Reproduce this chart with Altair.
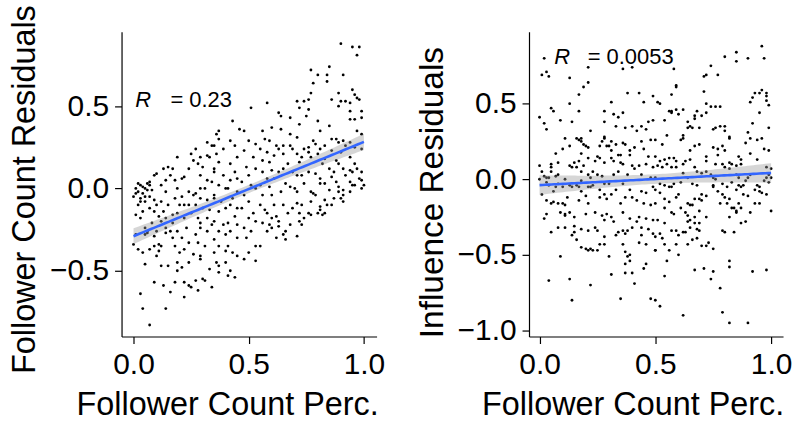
import altair as alt
import numpy as np
import pandas as pd

# ---- data (x = follower count percentile, y = residual) ----
left_points = [
    (0.00,-0.05),(0.01,0.00),(0.02,-0.02),(0.03,0.02),(0.03,-0.06),(0.04,-0.03),(0.05,0.00),(0.05,-0.08),
    (0.05,-0.05),(0.02,-0.10),(0.04,-0.14),(0.01,-0.16),(0.03,-0.18),(0.05,-0.24),(0.00,-0.34),(0.02,-0.37),
    (0.04,-0.39),(0.05,-0.28),(0.05,-0.46),(0.03,-0.64),(0.04,-0.73),(0.07,-0.83),(0.06,-0.27),(0.01,-0.28),
    (0.01,-0.03),(0.02,0.03),(0.04,0.01),(0.06,-0.01),(0.07,0.02),(0.03,-0.08),
    (0.06,0.03),(0.07,0.04),(0.09,0.08),(0.10,0.09),(0.08,-0.01),(0.07,-0.05),(0.09,-0.07),(0.10,-0.10),
    (0.07,-0.12),(0.09,-0.14),(0.11,-0.17),(0.08,-0.21),(0.06,-0.26),(0.10,-0.26),(0.09,-0.29),(0.11,-0.34),
    (0.09,-0.35),(0.11,-0.38),(0.10,-0.41),(0.12,-0.47),(0.09,-0.57),(0.07,-0.37),
    (0.13,0.12),(0.15,0.13),(0.17,0.12),(0.12,0.02),(0.14,0.05),(0.16,0.08),(0.14,-0.02),(0.12,-0.08),
    (0.15,-0.10),(0.13,-0.14),(0.17,-0.16),(0.14,-0.18),(0.12,-0.20),(0.14,-0.24),(0.16,-0.26),(0.17,-0.21),
    (0.12,-0.35),(0.14,-0.27),(0.15,-0.47),(0.13,-0.59),(0.16,-0.63),(0.14,-0.73),(0.17,-0.30),
    (0.19,0.19),(0.18,0.05),(0.21,0.06),(0.22,0.07),(0.19,0.00),(0.21,-0.05),(0.18,-0.06),(0.20,-0.10),
    (0.22,-0.10),(0.19,-0.15),(0.22,-0.18),(0.19,-0.26),(0.21,-0.30),(0.18,-0.35),(0.20,-0.39),(0.22,-0.37),
    (0.19,-0.45),(0.21,-0.48),(0.19,-0.50),(0.18,-0.57),(0.22,-0.66),(0.22,-0.57),
    (0.27,0.24),(0.25,0.21),(0.29,0.19),(0.24,0.12),(0.26,0.17),(0.28,0.15),(0.24,-0.02),(0.26,-0.04),
    (0.27,-0.03),(0.29,0.00),(0.24,-0.10),(0.27,-0.10),(0.25,-0.15),(0.28,-0.18),(0.23,-0.24),(0.29,-0.21),
    (0.27,-0.28),(0.24,-0.33),(0.28,-0.33),(0.26,-0.40),(0.24,-0.45),(0.29,-0.43),(0.24,-0.59),(0.25,-0.60),
    (0.28,-0.62),(0.27,-0.56),
    (0.32,0.28),(0.34,0.26),(0.33,0.19),(0.32,0.20),(0.30,0.13),(0.35,0.12),(0.29,0.08),(0.32,0.05),
    (0.34,0.04),(0.31,0.00),(0.29,-0.06),(0.32,-0.07),(0.35,-0.04),(0.30,-0.12),(0.33,-0.13),(0.32,-0.18),
    (0.29,-0.24),(0.34,-0.22),(0.32,-0.26),(0.31,-0.35),(0.35,-0.31),(0.29,-0.41),(0.33,-0.49),(0.30,-0.55),
    (0.31,-0.56),(0.34,-0.60),
    (0.36,0.33),(0.37,0.30),(0.37,0.35),(0.35,0.26),(0.36,0.21),(0.39,0.24),(0.37,0.16),(0.35,0.10),
    (0.39,0.08),(0.37,0.02),(0.40,0.00),(0.35,-0.06),(0.38,-0.08),(0.37,-0.14),(0.40,-0.12),(0.35,-0.20),
    (0.39,-0.22),(0.37,-0.26),(0.40,-0.28),(0.37,-0.35),(0.35,-0.39),(0.40,-0.38),(0.37,-0.47),(0.40,-0.45),
    (0.36,-0.45),(0.37,-0.51),
    (0.43,0.41),(0.46,0.36),(0.42,0.29),(0.44,0.26),(0.45,0.19),(0.42,0.15),(0.44,0.10),(0.42,0.05),
    (0.45,0.06),(0.41,0.00),(0.45,-0.02),(0.43,-0.06),(0.42,-0.10),(0.45,-0.12),(0.44,-0.17),(0.41,-0.21),
    (0.45,-0.22),(0.42,-0.26),(0.45,-0.30),(0.41,-0.35),(0.43,-0.39),(0.45,-0.41),(0.41,-0.53),(0.42,-0.50),
    (0.44,-0.54),
    (0.48,0.35),(0.51,0.49),(0.50,0.29),(0.53,0.27),(0.48,0.23),(0.52,0.19),(0.49,0.13),(0.53,0.12),
    (0.50,0.08),(0.47,0.04),(0.51,0.02),(0.53,0.00),(0.48,-0.04),(0.50,-0.08),(0.47,-0.12),(0.52,-0.15),
    (0.50,-0.18),(0.53,-0.20),(0.48,-0.24),(0.51,-0.26),(0.49,-0.30),(0.53,-0.35),(0.50,-0.39),(0.53,-0.44),
    (0.48,-0.43),
    (0.58,0.52),(0.63,0.46),(0.64,0.44),(0.56,0.35),(0.60,0.37),(0.59,0.29),(0.57,0.30),(0.62,0.26),
    (0.63,0.24),(0.58,0.22),(0.55,0.24),(0.61,0.20),(0.56,0.17),(0.59,0.16),(0.56,0.10),(0.60,0.11),
    (0.63,0.10),(0.58,0.06),(0.55,0.02),(0.61,0.06),(0.59,0.01),(0.60,-0.04),(0.56,-0.04),(0.57,-0.13),
    (0.61,-0.10),(0.55,-0.10),(0.58,-0.15),(0.60,-0.18),(0.62,-0.17),(0.56,-0.21),(0.59,-0.22),(0.63,-0.23),
    (0.58,-0.26),(0.60,-0.24),(0.55,-0.35),(0.62,-0.30),
    (0.68,0.43),(0.72,0.39),(0.64,0.36),(0.68,0.33),(0.71,0.31),(0.65,0.26),(0.68,0.26),(0.69,0.24),
    (0.65,0.21),(0.71,0.21),(0.67,0.15),(0.65,0.12),(0.72,0.16),(0.69,0.10),(0.71,0.08),(0.66,0.03),
    (0.68,0.01),(0.70,0.00),(0.64,-0.02),(0.71,-0.02),(0.65,-0.10),(0.69,-0.12),(0.67,-0.15),(0.71,-0.09),
    (0.63,-0.20),(0.66,-0.26),(0.65,-0.28),(0.68,-0.22),(0.66,-0.31),(0.71,-0.29),(0.72,-0.20),
    (0.77,0.72),(0.78,0.64),(0.80,0.69),(0.77,0.58),(0.74,0.53),(0.71,0.53),(0.76,0.54),(0.76,0.48),
    (0.72,0.49),(0.75,0.44),(0.80,0.41),(0.81,0.35),(0.78,0.29),(0.74,0.24),(0.76,0.25),(0.79,0.27),
    (0.73,0.19),(0.76,0.22),(0.77,0.19),(0.80,0.21),(0.73,0.08),(0.76,0.10),(0.79,0.09),(0.81,0.03),
    (0.74,0.03),(0.77,-0.02),(0.79,-0.04),(0.73,-0.10),(0.76,-0.15),(0.77,-0.16),(0.80,-0.15),(0.74,-0.18),
    (0.72,-0.15),(0.81,-0.13),(0.73,-0.22),(0.77,-0.08),(0.78,-0.03),
    (0.84,0.69),(0.85,0.74),(0.84,0.65),(0.89,0.58),(0.86,0.54),(0.89,0.50),(0.85,0.38),(0.86,0.30),
    (0.88,0.30),(0.89,0.28),(0.83,0.26),(0.81,0.24),(0.86,0.23),(0.83,0.18),(0.88,0.17),(0.82,0.15),
    (0.89,0.15),(0.85,0.12),(0.87,0.10),(0.81,0.06),(0.86,0.07),(0.88,0.04),(0.83,0.03),(0.89,0.01),
    (0.85,-0.01),(0.83,-0.07),(0.87,-0.06),(0.81,-0.11),(0.84,-0.10),(0.86,-0.10),(0.89,-0.02),(0.82,-0.16),
    (0.83,-0.15),
    (0.90,0.88),(0.95,0.86),(0.98,0.86),(0.97,0.81),(0.91,0.69),(0.95,0.60),(0.96,0.57),(0.97,0.55),
    (0.98,0.54),(0.92,0.53),(0.94,0.52),(0.90,0.53),(0.99,0.47),(0.94,0.47),(0.96,0.42),(0.94,0.42),
    (0.99,0.43),(0.97,0.35),(0.99,0.33),(0.91,0.29),(0.94,0.28),(0.92,0.26),(0.96,0.25),(0.99,0.24),
    (0.90,0.22),(0.94,0.19),(0.96,0.15),(0.91,0.12),(0.94,0.11),(0.97,0.12),(0.99,0.10),(0.95,0.10),
    (0.92,0.08),(0.98,0.06),(0.99,0.05),(0.95,0.02),(1.00,0.02),(0.99,0.00),(0.94,0.04),(0.91,-0.01),
    (0.91,-0.04),(0.94,-0.02),(0.91,-0.08),(0.90,-0.06),(0.96,0.02),
]

right_points = [
    (0.02,0.80),(0.01,0.69),(0.03,0.71),(0.04,0.68),(0.00,0.41),(0.02,0.37),(0.03,0.33),(0.05,0.47),
    (0.06,0.45),(0.00,0.09),(0.01,0.05),(0.02,0.02),(0.00,0.00),(0.03,0.01),(0.05,0.10),(0.05,0.08),
    (0.03,-0.02),(0.04,-0.04),(0.01,-0.10),(0.03,-0.14),(0.06,-0.08),(0.05,-0.16),(0.02,-0.26),(0.03,-0.23),
    (0.05,-0.35),(0.04,-0.67),(0.05,0.05),(0.04,0.01),
    (0.09,0.39),(0.07,0.17),(0.10,0.20),(0.11,0.27),(0.08,0.11),(0.08,0.03),(0.11,0.00),(0.07,-0.05),
    (0.08,-0.03),(0.06,-0.15),(0.08,-0.16),(0.10,-0.16),(0.11,-0.17),(0.09,-0.22),(0.11,-0.23),(0.11,-0.32),
    (0.08,-0.32),(0.09,-0.51),(0.07,0.02),(0.10,-0.05),
    (0.13,0.67),(0.14,0.38),(0.13,0.50),(0.17,0.45),(0.16,0.27),(0.17,0.26),(0.18,0.25),(0.13,0.22),
    (0.15,0.11),(0.17,0.12),(0.13,0.09),(0.14,0.08),(0.13,-0.04),(0.14,-0.05),(0.16,-0.04),(0.17,-0.05),
    (0.12,-0.12),(0.15,-0.25),(0.13,-0.22),(0.15,-0.31),(0.15,-0.35),(0.16,-0.40),(0.14,-0.37),(0.13,-0.66),
    (0.14,-0.80),(0.11,-0.24),(0.16,0.08),
    (0.21,0.74),(0.19,0.61),(0.17,0.56),(0.21,0.64),(0.18,0.27),(0.19,0.23),(0.20,0.22),(0.21,0.21),
    (0.22,0.32),(0.18,0.17),(0.21,0.14),(0.19,0.09),(0.18,0.05),(0.21,0.03),(0.22,0.01),(0.18,-0.01),
    (0.21,-0.05),(0.18,-0.08),(0.22,-0.05),(0.20,-0.11),(0.17,-0.14),(0.21,-0.16),(0.20,-0.23),(0.18,-0.33),
    (0.21,-0.34),(0.20,-0.46),(0.18,-0.45),(0.21,-0.47),(0.22,-0.70),(0.22,-0.46),
    (0.31,0.51),(0.28,0.45),(0.25,0.15),(0.28,0.28),(0.27,0.25),(0.28,0.27),(0.26,0.22),(0.24,0.12),
    (0.26,0.14),(0.28,0.11),(0.23,0.05),(0.25,0.03),(0.27,0.02),(0.23,-0.04),(0.26,-0.07),(0.28,-0.03),
    (0.26,-0.12),(0.28,-0.10),(0.24,-0.22),(0.27,-0.24),(0.25,-0.34),(0.28,-0.27),(0.26,-0.43),(0.23,-0.47),
    (0.25,-0.47),(0.28,-0.43),(0.28,-0.38),(0.24,-0.32),(0.29,0.22),
    (0.36,0.73),(0.32,0.43),(0.34,0.41),(0.36,0.44),(0.33,0.35),(0.28,0.38),(0.31,0.25),(0.30,0.22),
    (0.33,0.23),(0.31,0.19),(0.34,0.16),(0.31,0.14),(0.32,0.12),(0.35,0.11),(0.32,0.03),(0.34,0.05),
    (0.30,-0.03),(0.33,-0.07),(0.31,-0.10),(0.29,-0.13),(0.31,-0.25),(0.32,-0.28),(0.29,-0.23),(0.34,-0.35),
    (0.36,-0.34),(0.30,-0.51),(0.31,-0.63),(0.35,-0.79),(0.33,-0.37),
    (0.40,0.74),(0.38,0.57),(0.37,0.34),(0.40,0.35),(0.36,0.24),(0.37,0.23),(0.39,0.19),(0.35,0.16),
    (0.39,0.16),(0.36,0.10),(0.40,0.09),(0.38,0.03),(0.36,-0.03),(0.39,-0.07),(0.37,-0.12),(0.40,-0.12),
    (0.35,-0.16),(0.36,-0.22),(0.39,-0.26),(0.38,-0.34),(0.40,-0.32),(0.37,-0.36),(0.37,-0.48),(0.38,-0.51),
    (0.39,-0.54),(0.39,-0.50),(0.37,-0.56),(0.40,-0.62),(0.41,-0.69),(0.37,-0.62),(0.36,-0.43),
    (0.43,0.57),(0.45,0.51),(0.49,0.55),(0.49,0.39),(0.47,0.38),(0.44,0.35),(0.42,0.32),(0.46,0.33),
    (0.48,0.26),(0.44,0.25),(0.41,0.21),(0.45,0.20),(0.47,0.15),(0.43,0.09),(0.46,0.10),(0.49,0.08),
    (0.41,0.07),(0.44,0.03),(0.48,0.01),(0.44,-0.08),(0.46,-0.09),(0.49,-0.05),(0.42,-0.14),(0.45,-0.16),
    (0.48,-0.17),(0.43,-0.25),(0.46,-0.26),(0.49,-0.27),(0.42,-0.28),(0.44,-0.32),(0.47,-0.33),(0.44,-0.37),
    (0.49,-0.36),(0.43,-0.42),(0.50,-0.47),(0.46,-0.56),(0.45,-0.59),(0.48,-0.79),(0.46,-0.43),
    (0.58,0.73),(0.51,0.51),(0.52,0.50),(0.57,0.56),(0.59,0.61),(0.59,0.62),(0.56,0.45),(0.54,0.39),
    (0.57,0.44),(0.55,0.29),(0.50,0.26),(0.53,0.23),(0.56,0.14),(0.50,0.15),(0.52,0.12),(0.54,0.13),
    (0.55,0.10),(0.51,0.09),(0.53,0.08),(0.50,0.01),(0.52,-0.03),(0.54,-0.04),(0.56,-0.05),(0.50,-0.07),
    (0.54,-0.13),(0.56,-0.15),(0.52,-0.09),(0.54,-0.19),(0.57,-0.22),(0.50,-0.16),(0.51,-0.27),(0.54,-0.29),
    (0.52,-0.36),(0.50,-0.38),(0.53,-0.39),(0.54,-0.43),(0.56,-0.47),(0.50,-0.47),(0.55,-0.54),(0.54,-0.64),
    (0.52,-0.84),(0.50,-0.80),(0.57,-0.34),
    (0.57,0.45),(0.59,0.46),(0.62,0.46),(0.60,0.43),(0.64,0.38),(0.64,0.34),(0.62,0.29),(0.62,0.27),
    (0.65,0.35),(0.61,0.26),(0.58,0.14),(0.59,0.12),(0.62,0.10),(0.63,0.12),(0.65,0.13),(0.59,0.08),
    (0.57,0.08),(0.62,0.04),(0.64,0.01),(0.58,-0.03),(0.61,-0.02),(0.57,-0.05),(0.60,-0.10),(0.59,-0.12),
    (0.64,-0.16),(0.61,-0.19),(0.63,-0.22),(0.65,-0.17),(0.64,-0.24),(0.58,-0.23),(0.64,-0.28),(0.65,-0.32),
    (0.59,-0.34),(0.62,-0.35),(0.63,-0.35),(0.60,-0.37),(0.59,-0.43),(0.64,-0.43),(0.60,-0.50),(0.62,-0.90),
    (0.65,-0.27),
    (0.71,0.68),(0.74,0.75),(0.72,0.69),(0.77,0.69),(0.71,0.58),(0.72,0.50),(0.68,0.45),(0.67,0.40),
    (0.67,0.42),(0.70,0.42),(0.72,0.44),(0.66,0.34),(0.69,0.34),(0.67,0.22),(0.69,0.23),(0.65,0.19),
    (0.72,0.15),(0.72,0.12),(0.67,0.08),(0.68,0.05),(0.70,0.04),(0.72,0.05),(0.74,0.03),(0.66,-0.03),
    (0.68,-0.04),(0.70,-0.10),(0.72,-0.11),(0.67,-0.13),(0.69,-0.13),(0.70,-0.14),(0.66,-0.17),(0.67,-0.25),
    (0.69,-0.29),(0.69,-0.21),(0.72,-0.25),(0.67,-0.29),(0.68,-0.33),(0.69,-0.34),(0.66,-0.40),(0.68,-0.39),
    (0.70,-0.44),(0.72,-0.44),(0.75,-0.46),(0.67,-0.60),(0.71,-0.59),(0.75,-0.61),(0.74,-0.66),(0.73,-0.42),
    (0.74,0.48),(0.76,0.48),(0.78,0.48),(0.75,0.33),(0.76,0.34),(0.78,0.35),(0.80,0.35),(0.80,0.32),
    (0.82,0.28),(0.75,0.21),(0.77,0.20),(0.77,0.16),(0.79,0.22),(0.80,0.19),(0.76,0.10),(0.79,0.10),
    (0.80,0.08),(0.82,0.07),(0.82,0.11),(0.75,0.01),(0.76,0.00),(0.79,-0.03),(0.81,-0.05),(0.75,-0.05),
    (0.77,-0.08),(0.79,-0.10),(0.80,-0.12),(0.82,-0.13),(0.78,-0.16),(0.81,-0.16),(0.83,-0.19),(0.82,-0.25),
    (0.85,-0.22),(0.79,-0.34),(0.80,-0.35),(0.84,-0.35),(0.82,-0.54),(0.82,-0.58),(0.78,-0.72),(0.79,-0.88),
    (0.82,-0.95),(0.75,-0.04),
    (0.80,0.81),(0.85,0.84),(0.85,0.78),(0.90,0.80),(0.82,0.27),(0.86,0.15),(0.87,0.13),(0.83,0.10),
    (0.85,0.09),(0.87,0.10),(0.85,0.03),(0.86,0.01),(0.89,-0.01),(0.83,-0.02),(0.90,0.01),(0.91,0.03),
    (0.86,-0.04),(0.87,-0.05),(0.85,-0.07),(0.84,-0.19),(0.85,-0.21),(0.86,-0.16),(0.88,-0.10),(0.90,-0.11),
    (0.87,-0.29),(0.89,-0.28),(0.91,-0.22),(0.87,-0.19),(0.88,-0.04),(0.90,-0.95),(0.91,0.17),(0.89,0.24),
    (0.91,0.27),(0.90,0.31),
    (0.96,0.88),(0.97,0.80),(0.92,0.54),(0.91,0.51),(0.93,0.57),(0.95,0.57),(0.96,0.59),(0.98,0.57),
    (0.98,0.55),(0.98,0.52),(0.99,0.49),(0.95,0.44),(0.92,0.37),(0.99,0.34),(0.94,0.26),(0.96,0.27),
    (0.97,0.20),(0.99,0.19),(0.94,0.13),(0.98,0.08),(1.00,0.07),(0.99,0.03),(0.98,0.01),(0.97,-0.01),
    (0.99,-0.02),(0.94,-0.04),(0.95,-0.08),(0.96,-0.09),(0.98,-0.10),(0.93,-0.16),(0.95,-0.16),(1.00,-0.21),
    (0.92,-0.61),(0.98,-0.60),(0.95,-0.05),(0.93,-0.07),(1.00,0.01),
]

x_ticks = [0.0, 0.5, 1.0]
left_y_ticks = [-0.5, 0.0, 0.5]
right_y_ticks = [-1.0, -0.5, 0.0, 0.5]
x_title = "Follower Count Perc."
left_y_title = "Follower Count Residuals"
right_y_title = "Influence Residuals"
left_r_text = "= 0.23"
right_r_text = "= 0.0053"

FONT = "Liberation Sans"
PLOT_H = 306


def fit_band(points):
    df = pd.DataFrame(points, columns=["x", "y"])
    x = df["x"].to_numpy()
    y = df["y"].to_numpy()
    n = len(x)
    b, a = np.polyfit(x, y, 1)
    resid = y - (a + b * x)
    s = np.sqrt((resid ** 2).sum() / (n - 2))
    xbar = x.mean()
    sxx = ((x - xbar) ** 2).sum()
    grid = np.linspace(x.min(), x.max(), 80)
    fit = a + b * grid
    se = s * np.sqrt(1.0 / n + (grid - xbar) ** 2 / sxx)
    t = 1.968
    band = pd.DataFrame({"x": grid, "fit": fit, "lo": fit - t * se, "hi": fit + t * se})
    return df, band


def panel(points, xdom, ydom, yticks, ytitle, ytitle_size, title_y, title_x,
          r_xy, eq_xy, eq_text, w, h):
    df, band = fit_band(points)
    xs = alt.Scale(domain=xdom, nice=False, zero=False)
    ys = alt.Scale(domain=ydom, nice=False, zero=False)
    xax = alt.Axis(values=x_ticks, format=".1f", title=x_title, titlePadding=9, titleX=title_x)
    yax = alt.Axis(values=yticks, format=".1f", title=ytitle, titleY=title_y, titlePadding=8,
                   titleFontSize=ytitle_size)
    pts = alt.Chart(df).mark_circle(size=8, color="black", opacity=1).encode(
        x=alt.X("x:Q", scale=xs, axis=xax),
        y=alt.Y("y:Q", scale=ys, axis=yax),
    )
    area = alt.Chart(band).mark_area(color="#999999", opacity=0.4).encode(
        x=alt.X("x:Q", scale=xs), y=alt.Y("lo:Q", scale=ys), y2="hi:Q"
    )
    line = alt.Chart(band).mark_line(color="#3366FF", strokeWidth=2.6).encode(
        x=alt.X("x:Q", scale=xs), y=alt.Y("fit:Q", scale=ys)
    )
    lab = pd.DataFrame({"x": [r_xy[0], eq_xy[0]], "y": [r_xy[1], eq_xy[1]], "t": ["R", eq_text]})
    rtxt = alt.Chart(lab.iloc[[0]]).mark_text(
        align="left", baseline="middle", font=FONT, fontSize=22, fontStyle="italic", color="black"
    ).encode(x=alt.X("x:Q", scale=xs), y=alt.Y("y:Q", scale=ys), text="t:N")
    etxt = alt.Chart(lab.iloc[[1]]).mark_text(
        align="left", baseline="middle", font=FONT, fontSize=22, color="black"
    ).encode(x=alt.X("x:Q", scale=xs), y=alt.Y("y:Q", scale=ys), text="t:N")
    return alt.layer(pts, area, line, rtxt, etxt).properties(width=w, height=h)


left = panel(left_points, [-0.052, 1.055], [-0.90, 0.953], left_y_ticks, left_y_title, 32.5, 158, 106,
             (0.007, 0.54), (0.16, 0.54), left_r_text, 256, PLOT_H)
right = panel(right_points, [-0.0456, 1.0516], [-1.04, 0.976], right_y_ticks, right_y_title, 33.5, 161, 104,
              (0.063, 0.81), (0.208, 0.81), right_r_text, 255, PLOT_H)

chart = alt.hconcat(left, right, spacing=29).properties(
    padding={"left": 8, "top": 3, "right": 3, "bottom": 0}
).configure_view(stroke=None).configure_axis(
    grid=False,
    domainColor="black",
    domainWidth=1.2,
    tickColor="black",
    tickWidth=1.2,
    tickSize=7,
    labelColor="black",
    titleColor="black",
    labelFont=FONT,
    titleFont=FONT,
    labelFontSize=30,
    titleFontSize=32.5,
    titleFontWeight="normal",
    labelPadding=6,
)

chart.save("out.html", embed_options={"renderer": "svg", "actions": False})
